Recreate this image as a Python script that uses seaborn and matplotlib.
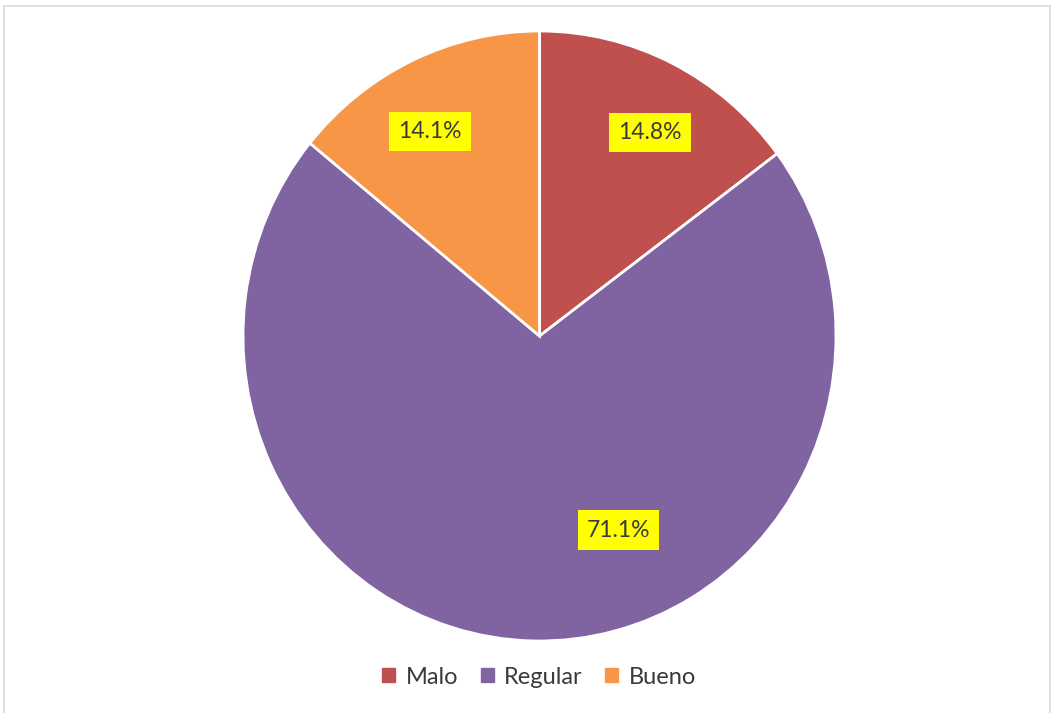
import numpy as np
import matplotlib
matplotlib.use("Agg")
import matplotlib.pyplot as plt
import matplotlib.patches as mpatches
import seaborn as sns

sns.set_theme(style="white")
plt.rcParams["font.family"] = ["Lato", "DejaVu Sans"]

categories = ["Malo", "Regular", "Bueno"]
shares = [14.8, 71.1, 14.1]
labels = ["14.8%", "71.1%", "14.1%"]
colors = ["#C0504D", "#8064A2", "#F79646"]

fig = plt.figure(figsize=(10.59, 7.13), dpi=100)
fig.patch.set_facecolor("white")

# thin grey frame around the chart area
frame = mpatches.Rectangle((4 / 1059, -0.01), 1046 / 1059, 1 - 6 / 713 + 0.01,
                           transform=fig.transFigure, fill=False,
                           edgecolor="#D9D9D9", linewidth=1.2)
fig.patches.append(frame)

ax = fig.add_axes([243 / 1059, 72 / 713, 593 / 1059, 610 / 713])
wedges, _ = ax.pie(shares, colors=colors, startangle=90, counterclock=False,
                   wedgeprops=dict(edgecolor="white", linewidth=2))
ax.set_aspect("auto")
ax.set_xlim(-1, 1)
ax.set_ylim(-1, 1)
ax.axis("off")

# label placement: (angle offset in degrees from wedge middle, radius fraction)
label_place = [(-2.5, 0.765), (24.0, 0.69), (3.5, 0.765)]
for w, txt, (dang, rad) in zip(wedges, labels, label_place):
    mid = np.deg2rad((w.theta1 + w.theta2) / 2 + dang)
    ax.text(rad * np.cos(mid), rad * np.sin(mid), txt, ha="center", va="center",
            fontsize=16.5, color="#3A3A3A",
            bbox=dict(boxstyle="square,pad=0.4", facecolor="#FFFF00", edgecolor="none"))

handles = [mpatches.Patch(color=c, label=n) for c, n in zip(colors, categories)]
fig.legend(handles=handles, loc="center", bbox_to_anchor=(0.509, 1 - 677 / 713),
           ncol=3, frameon=False, fontsize=17, handlelength=0.55, handleheight=0.55,
           handletextpad=0.45, columnspacing=0.95, labelcolor="#3A3A3A")

fig.savefig("out.png", dpi=100, facecolor="white")
